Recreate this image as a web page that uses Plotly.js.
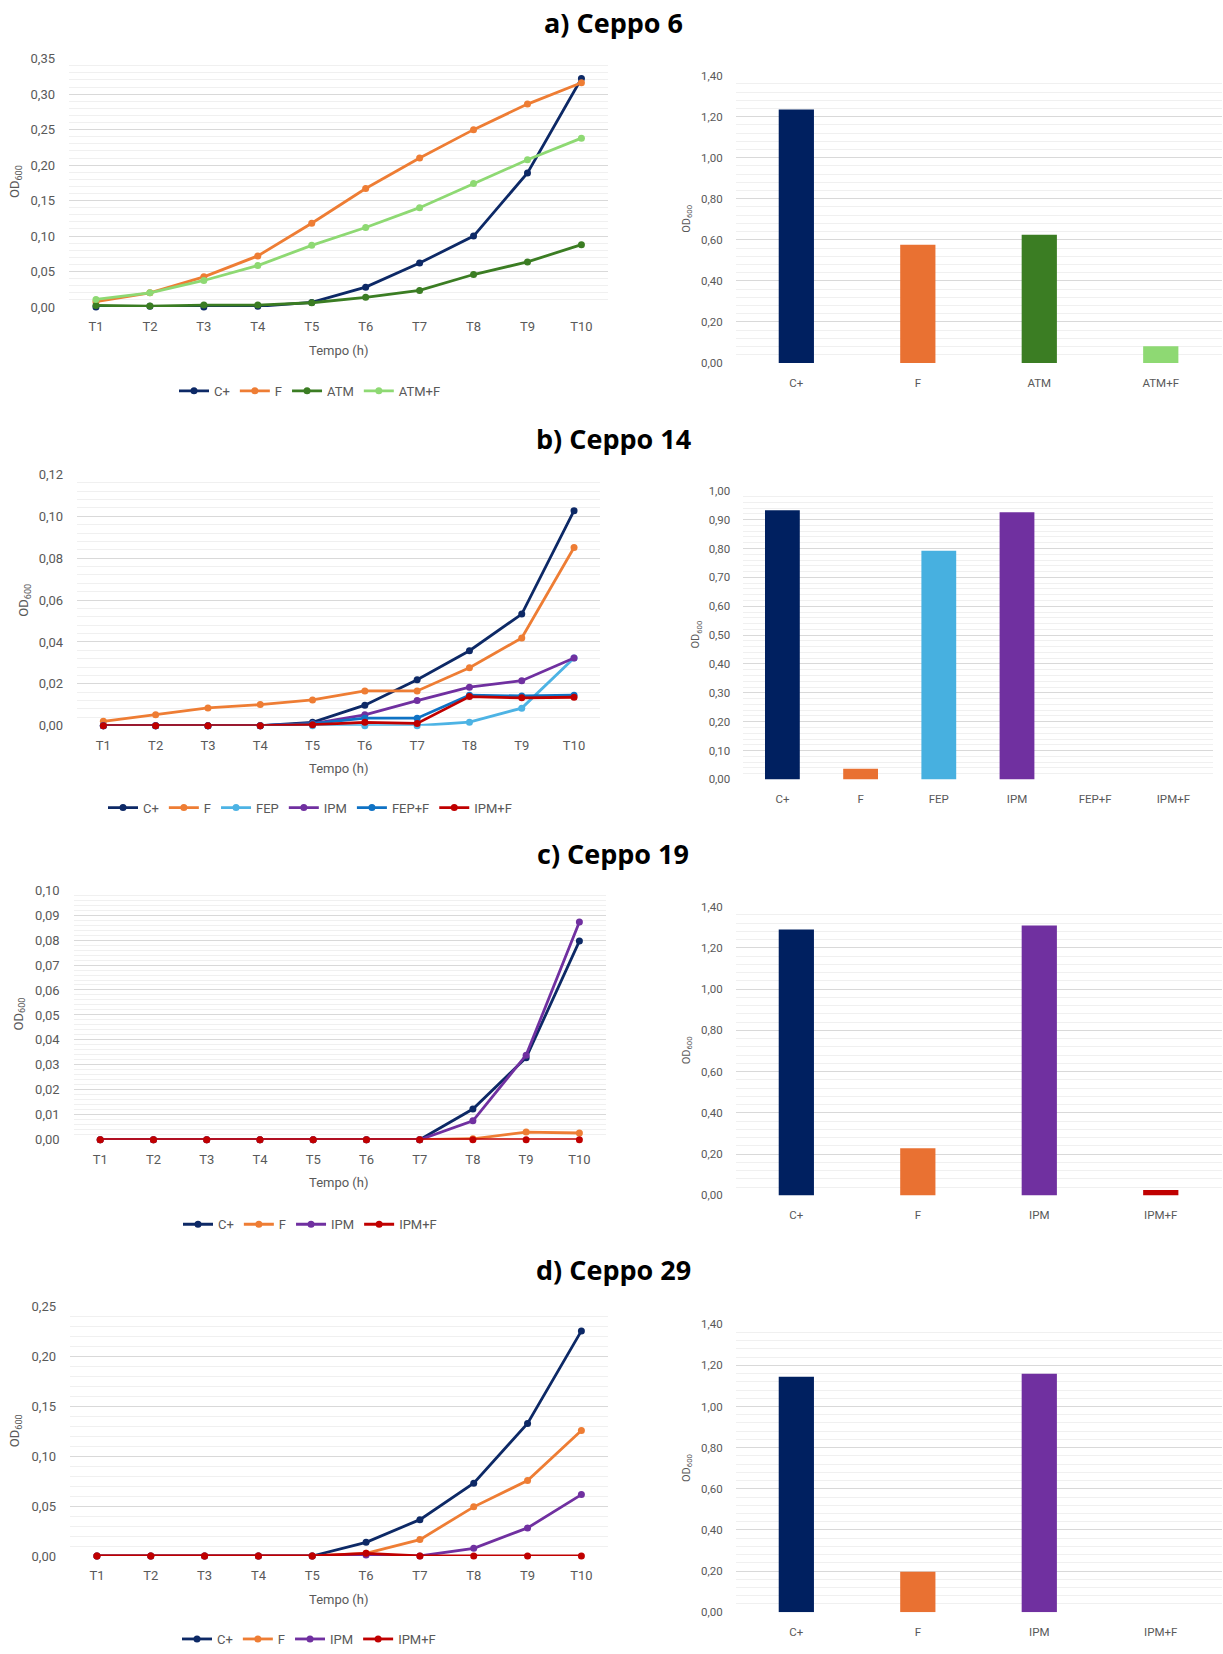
<!DOCTYPE html>
<html>
<head>
<meta charset="utf-8">
<script src="https://cdn.plot.ly/plotly-3.0.1.min.js"></script>
<style>
  html, body { margin: 0; padding: 0; background: #ffffff; }
  #chart { width: 1223px; height: 1654px; }
</style>
</head>
<body>
<div id="chart"></div>
<script>
// ---------- data ----------
const timePoints = ['T1', 'T2', 'T3', 'T4', 'T5', 'T6', 'T7', 'T8', 'T9', 'T10'];

// a) Ceppo 6 – growth curves (OD600)
const c6Cplus = [0.000, 0.001, 0.000, 0.001, 0.0065, 0.028, 0.062, 0.100, 0.189, 0.322];
const c6F     = [0.0075, 0.020, 0.0425, 0.072, 0.118, 0.167, 0.210, 0.250, 0.286, 0.316];
const c6ATM   = [0.0023, 0.0014, 0.0028, 0.0028, 0.006, 0.0136, 0.0234, 0.0458, 0.0636, 0.0879];
const c6ATMF  = [0.0107, 0.020, 0.0374, 0.0584, 0.0869, 0.112, 0.140, 0.174, 0.2075, 0.238];
// a) Ceppo 6 – final OD600
const c6BarCats = ['C+', 'F', 'ATM', 'ATM+F'];
const c6BarVals = [1.235, 0.576, 0.625, 0.082];

// b) Ceppo 14 – growth curves
const c14Cplus = [0.000, 0.000, 0.000, 0.000, 0.0016, 0.0098, 0.022, 0.0358, 0.0533, 0.1027];
const c14F     = [0.0021, 0.0052, 0.0085, 0.0101, 0.0123, 0.0166, 0.0166, 0.0277, 0.0419, 0.0851];
const c14FEP   = [0.000, 0.000, 0.000, 0.000, 0.000, 0.000, 0.000, 0.0017, 0.0084, 0.0323];
const c14IPM   = [0.000, 0.000, 0.000, 0.000, 0.001, 0.0052, 0.012, 0.0184, 0.0215, 0.0323];
const c14FEPF  = [0.000, 0.000, 0.000, 0.000, 0.001, 0.0036, 0.0036, 0.0146, 0.0142, 0.0146];
const c14IPMF  = [0.000, 0.000, 0.000, 0.000, 0.0005, 0.0016, 0.0011, 0.0139, 0.0133, 0.0136];
// b) Ceppo 14 – final OD600
const c14BarCats = ['C+', 'F', 'FEP', 'IPM', 'FEP+F', 'IPM+F'];
const c14BarVals = [0.933, 0.037, 0.792, 0.926, 0.000, 0.000];

// c) Ceppo 19 – growth curves
const c19Cplus = [0, 0, 0, 0, 0, 0, 0, 0.0123, 0.0329, 0.0796];
const c19F     = [0, 0, 0, 0, 0, 0, 0, 0.0004, 0.0031, 0.0027];
const c19IPM   = [0, 0, 0, 0, 0, 0, 0, 0.0076, 0.0339, 0.0872];
const c19IPMF  = [0, 0, 0, 0, 0, 0, 0, 0, 0, 0];
// c) Ceppo 19 – final OD600
const c19BarCats = ['C+', 'F', 'IPM', 'IPM+F'];
const c19BarVals = [1.289, 0.229, 1.308, 0.026];

// d) Ceppo 29 – growth curves
const c29Cplus = [0, 0, 0, 0, 0, 0.0137, 0.0364, 0.0729, 0.1328, 0.2254];
const c29F     = [0, 0, 0, 0, 0, 0.0027, 0.0164, 0.0492, 0.0756, 0.1257];
const c29IPM   = [0, 0, 0, 0, 0, 0.001, 0.000, 0.0077, 0.0281, 0.0615];
const c29IPMF  = [0, 0, 0, 0, 0, 0.0027, 0, 0, 0, 0];
// d) Ceppo 29 – final OD600
const c29BarCats = ['C+', 'F', 'IPM', 'IPM+F'];
const c29BarVals = [1.145, 0.197, 1.159, 0.000];

// ---------- colours ----------
const COL = {
  'C+': '#0d2966', 'F': '#ee7d34', 'ATM': '#3b7d23', 'ATM+F': '#8ed973',
  'FEP': '#4db3e4', 'IPM': '#7030a0', 'FEP+F': '#0f72c4', 'IPM+F': '#c00000'
};
const BARCOL = {
  'C+': '#002060', 'F': '#e97132', 'ATM': '#3b7d23', 'ATM+F': '#8ed973',
  'FEP': '#47b0e0', 'IPM': '#7030a0', 'FEP+F': '#0f72c4', 'IPM+F': '#c00000'
};

// ---------- geometry helpers (page pixels -> paper fractions) ----------
const W = 1223, H = 1654;
const xd = (l, r) => [l / W, r / W];
const yd = (t, b) => [1 - b / H, 1 - t / H];
const px = x => x / W;
const py = y => 1 - y / H;

const FONT = 'Liberation Sans Narrow, Roboto, Arial, sans-serif';
const GREY = '#595959';

const traces = [];
const layout = {
  width: W, height: H,
  margin: { l: 0, r: 0, t: 0, b: 0 },
  paper_bgcolor: '#ffffff', plot_bgcolor: '#ffffff',
  separators: ',.',
  showlegend: true,
  hovermode: false,
  font: { family: FONT, color: GREY, size: 12 },
  annotations: []
};

function axisKeys(n) {
  return n === 1 ? ['xaxis', 'yaxis', 'x', 'y'] : ['xaxis' + n, 'yaxis' + n, 'x' + n, 'y' + n];
}

function addLinePanel(n, legendId, seriesNames, seriesVals, box, yMax, dtick, minorDtick, legendPos, tempoPos, odPos) {
  const [xk, yk, xr, yr] = axisKeys(n);
  seriesNames.forEach((name, i) => {
    traces.push({
      type: 'scatter', mode: 'lines+markers',
      x: timePoints, y: seriesVals[i], name: name,
      xaxis: xr, yaxis: yr, legend: legendId,
      line: { color: COL[name], width: 2.8 },
      marker: { color: COL[name], size: 7 },
      cliponaxis: false
    });
  });
  layout[xk] = {
    domain: xd(box[0], box[1]), anchor: yr, type: 'category',
    range: [-0.5, timePoints.length - 0.5],
    showgrid: false, zeroline: false, showline: false, ticks: '',
    tickfont: { family: FONT, size: 13, color: GREY }, ticklabelstandoff: 10,
    fixedrange: true
  };
  layout[yk] = {
    domain: yd(box[2], box[3]), anchor: xr,
    range: [0, yMax], dtick: dtick, tick0: 0, tickformat: '.2f',
    showgrid: true, gridcolor: '#d9d9d9', gridwidth: 1,
    minor: { dtick: minorDtick, tick0: 0, showgrid: true, gridcolor: '#f0f0f0', gridwidth: 1 },
    zeroline: false, showline: false, ticks: '',
    tickfont: { family: FONT, size: 13, color: GREY }, ticklabelstandoff: 13,
    fixedrange: true
  };
  layout[legendId] = {
    orientation: 'h', x: px(legendPos[0]), y: py(legendPos[1]),
    xanchor: 'center', yanchor: 'middle', xref: 'paper', yref: 'paper',
    font: { family: FONT, size: 13, color: GREY },
    itemwidth: 30, tracegroupgap: 0, bgcolor: 'rgba(0,0,0,0)'
  };
  layout.annotations.push({
    text: 'Tempo (h)', xref: 'paper', yref: 'paper', x: px(tempoPos[0]), y: py(tempoPos[1]),
    xanchor: 'center', yanchor: 'middle', showarrow: false,
    font: { family: FONT, size: 13, color: GREY }
  });
  layout.annotations.push({
    text: 'OD<sub>600</sub>', xref: 'paper', yref: 'paper', x: px(odPos[0]), y: py(odPos[1]),
    xanchor: 'center', yanchor: 'middle', showarrow: false, textangle: -90,
    font: { family: FONT, size: 13, color: GREY }
  });
}

function addBarPanel(n, cats, vals, box, yMax, dtick, minorDtick, barWidth, odPos) {
  const [xk, yk, xr, yr] = axisKeys(n);
  traces.push({
    type: 'bar', x: cats, y: vals, xaxis: xr, yaxis: yr,
    width: barWidth, showlegend: false,
    marker: { color: cats.map(c => BARCOL[c]), line: { width: 0 } }
  });
  layout[xk] = {
    domain: xd(box[0], box[1]), anchor: yr, type: 'category',
    range: [-0.5, cats.length - 0.5],
    showgrid: false, zeroline: false, showline: false, ticks: '',
    tickfont: { family: FONT, size: 11.5, color: GREY }, ticklabelstandoff: 11,
    fixedrange: true
  };
  layout[yk] = {
    domain: yd(box[2], box[3]), anchor: xr,
    range: [0, yMax], dtick: dtick, tick0: 0, tickformat: '.2f',
    showgrid: true, gridcolor: '#d9d9d9', gridwidth: 1,
    minor: { dtick: minorDtick, tick0: 0, showgrid: true, gridcolor: '#f0f0f0', gridwidth: 1 },
    zeroline: false, showline: false, ticks: '',
    tickfont: { family: FONT, size: 11.5, color: GREY }, ticklabelstandoff: 12,
    fixedrange: true
  };
  layout.annotations.push({
    text: 'OD<sub>600</sub>', xref: 'paper', yref: 'paper', x: px(odPos[0]), y: py(odPos[1]),
    xanchor: 'center', yanchor: 'middle', showarrow: false, textangle: -90,
    font: { family: FONT, size: 11, color: GREY }
  });
}

function addPanelTitle(text, x, y) {
  layout.annotations.push({
    text: '<b>' + text + '</b>', xref: 'paper', yref: 'paper', x: px(x), y: py(y),
    xanchor: 'center', yanchor: 'middle', showarrow: false,
    font: { family: 'Open Sans, Noto Sans, sans-serif', size: 27, color: '#000000' }
  });
}

// a) Ceppo 6
addPanelTitle('a) Ceppo 6', 613, 23);
addLinePanel(1, 'legend', ['C+', 'F', 'ATM', 'ATM+F'], [c6Cplus, c6F, c6ATM, c6ATMF],
  [69, 608.4, 59, 308.7], 0.35, 0.05, 0.01, [310, 393], [339, 352], [15, 183]);
addBarPanel(2, c6BarCats, c6BarVals, [735.6, 1221.5, 76, 365], 1.4, 0.2, 0.04, 0.29, [687, 220]);

// b) Ceppo 14
addPanelTitle('b) Ceppo 14', 613, 441);
addLinePanel(3, 'legend2', ['C+', 'F', 'FEP', 'IPM', 'FEP+F', 'IPM+F'],
  [c14Cplus, c14F, c14FEP, c14IPM, c14FEPF, c14IPMF],
  [77.2, 600.2, 477, 729.7], 0.12, 0.02, 0.004, [310, 812], [339, 773], [25, 604]);
addBarPanel(4, c14BarCats, c14BarVals, [743.3, 1212.5, 493.5, 783.7], 1.0, 0.1, 0.02, 0.445, [696, 638]);

// c) Ceppo 19
addPanelTitle('c) Ceppo 19', 613, 858);
addLinePanel(5, 'legend3', ['C+', 'F', 'IPM', 'IPM+F'], [c19Cplus, c19F, c19IPM, c19IPMF],
  [73.6, 606, 895, 1146], 0.10, 0.01, 0.002, [310, 1231], [339, 1189], [19, 1020]);
addBarPanel(6, c19BarCats, c19BarVals, [735.6, 1221.5, 911.5, 1202], 1.4, 0.2, 0.04, 0.29, [687, 1056]);

// d) Ceppo 29
addPanelTitle('d) Ceppo 29', 613, 1276);
addLinePanel(7, 'legend4', ['C+', 'F', 'IPM', 'IPM+F'], [c29Cplus, c29F, c29IPM, c29IPMF],
  [70, 608.3, 1313.5, 1564.5], 0.25, 0.05, 0.01, [309, 1648], [339, 1608], [15, 1439]);
addBarPanel(8, c29BarCats, c29BarVals, [735.6, 1221.5, 1331.5, 1621], 1.4, 0.2, 0.04, 0.29, [687, 1476]);

Plotly.newPlot('chart', traces, layout, { staticPlot: true, displayModeBar: false });
</script>
</body>
</html>
